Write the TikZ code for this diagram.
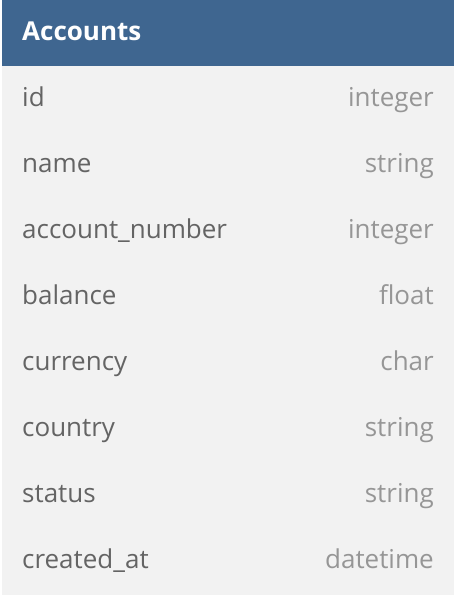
\documentclass[tikz,border=0pt]{standalone}
\usepackage{fontspec}
\setmainfont{Open Sans}
\definecolor{hdr}{RGB}{63,102,144}
\definecolor{rowbg}{RGB}{242,242,242}
\definecolor{fname}{RGB}{100,100,100}
\definecolor{ftype}{RGB}{150,150,150}
\begin{document}
\begin{tikzpicture}[x=1pt,y=-1pt,
  fieldname/.style={anchor=west,text=fname,font=\fontsize{26}{30}\selectfont,inner sep=0pt},
  fieldtype/.style={anchor=east,text=ftype,font=\fontsize{26}{30}\selectfont,inner sep=0pt},
  title/.style={anchor=west,text=white,font=\fontsize{26}{30}\selectfont\bfseries,inner sep=0pt}]
\useasboundingbox (0,0) rectangle (458,598);
\fill[rowbg] (2,66) rectangle (454,595);
\fill[hdr] (2,0) rectangle (454,66);
\node[title] (t) at (22,34) {\vphantom{Ag}Accounts};
\foreach \n/\ty [count=\i] in {id/integer,name/string,account\_number/integer,balance/float,currency/char,country/string,status/string,created\_at/datetime}{
  \node[fieldname] (n\i) at (22,{34+66*\i}) {\vphantom{Ag}\n};
  \node[fieldtype] (ty\i) at (434,{34+66*\i}) {\vphantom{Ag}\ty};
}
\end{tikzpicture}
\end{document}
